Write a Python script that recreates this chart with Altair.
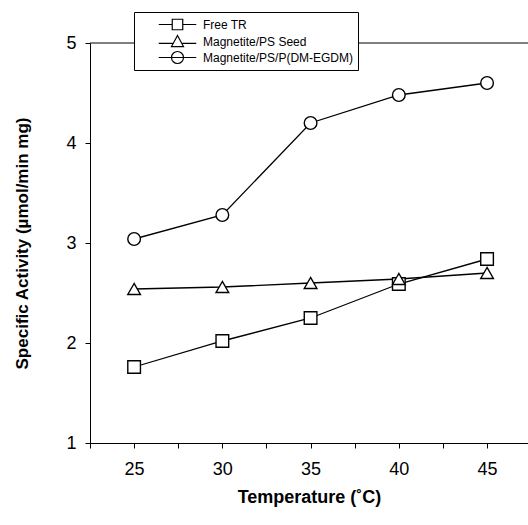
import altair as alt
import pandas as pd

temps = [25, 30, 35, 40, 45]
series_names = ["Free TR", "Magnetite/PS Seed", "Magnetite/PS/P(DM-EGDM)"]
free_tr = [1.76, 2.02, 2.25, 2.59, 2.84]
ps_seed = [2.54, 2.56, 2.60, 2.64, 2.70]
ps_dm = [3.04, 3.28, 4.20, 4.48, 4.60]
x_ticks = [22.5, 25, 27.5, 30, 32.5, 35, 37.5, 40, 42.5, 45, 47.5]
y_ticks = [1, 2, 3, 4, 5]

rows = []
for name, vals in zip(series_names, [free_tr, ps_seed, ps_dm]):
    for t, v in zip(temps, vals):
        rows.append({"T": t, "A": v, "S": name})
df = pd.DataFrame(rows)

FONT = "Liberation Sans"
xscale = alt.Scale(domain=[22.5, 47.32], nice=False, zero=False)
yscale = alt.Scale(domain=[1, 5], nice=False, zero=False)

xaxis = alt.Axis(values=x_ticks, labelExpr="datum.value % 5 == 0 ? format(datum.value, 'd') : ''",
                 grid=False, domainColor="black", tickColor="black", tickSize=5,
                 labelFont=FONT, labelFontSize=18, labelColor="black", labelPadding=12,
                 title="Temperature (˚C)", titleFont=FONT, titleFontSize=18, titleFontWeight="bold",
                 titleColor="black", titlePadding=10)
yaxis = alt.Axis(values=y_ticks, format="d", grid=False, domainColor="black", tickColor="black",
                 tickSize=5, labelFont=FONT, labelFontSize=18, labelColor="black", labelPadding=9,
                 title="Specific Activity (µmol/min mg)", titleFont=FONT, titleFontSize=17,
                 titleFontWeight="bold", titleColor="black", titlePadding=34)

x = alt.X("T:Q", scale=xscale, axis=xaxis)
y = alt.Y("A:Q", scale=yscale, axis=yaxis)

lines = alt.Chart(df).mark_line(color="black", strokeWidth=1.3).encode(
    x=x, y=y, detail="S:N")

points = alt.Chart(df).mark_point(filled=False, fill="white", fillOpacity=1, stroke="black",
                                  strokeWidth=1.4, size=160, opacity=1).encode(
    x=alt.X("T:Q"), y=alt.Y("A:Q"),
    shape=alt.Shape("S:N", scale=alt.Scale(domain=series_names,
                                          range=["square", "triangle-up", "circle"]),
                    legend=None))

sq = "M-2.5,0H-0.7M0.7,0H2.5M-0.7,-0.7H0.7V0.7H-0.7Z"
tri = "M-2.5,0.25H-0.65M0.65,0.25H2.5M0,-0.8L0.8,0.67H-0.8Z"
cir = "M-2.5,0H2.5M-0.8,0A0.8,0.8,0,1,0,0.8,0A0.8,0.8,0,1,0,-0.8,0Z"

legend_layer = alt.Chart(df).mark_point(opacity=0, size=0).encode(
    x=alt.X("T:Q"), y=alt.Y("A:Q"),
    shape=alt.Shape("S2:N", scale=alt.Scale(domain=series_names, range=[sq, tri, cir]),
                    legend=alt.Legend(title=None, orient="none", legendX=44, legendY=-31,
                                      fillColor="white", strokeColor="black", padding=4,
                                      symbolSize=225, symbolStrokeColor="black",
                                      symbolFillColor="white", symbolOpacity=1,
                                      symbolStrokeWidth=1.2, labelFont=FONT, labelFontSize=12,
                                      labelColor="black", rowPadding=0, labelOffset=17,
                                      labelLimit=400, symbolOffset=31))
).transform_calculate(S2="datum.S")

top_rule = alt.Chart(df).mark_rule(color="black", strokeWidth=1).encode(
    y=alt.datum(5)).transform_filter("datum.T == 25 && datum.S == 'Free TR'")

chart = alt.layer(top_rule, lines, points, legend_layer).resolve_scale(
    shape="independent").properties(
    width=438, height=400,
    autosize=alt.AutoSizeParams(type="none"),
    padding={"left": 90, "top": 43, "right": 0, "bottom": 82},
    background="white"
).configure_view(stroke=None)

chart.save("out.html", embed_options={"renderer": "svg", "actions": False})
